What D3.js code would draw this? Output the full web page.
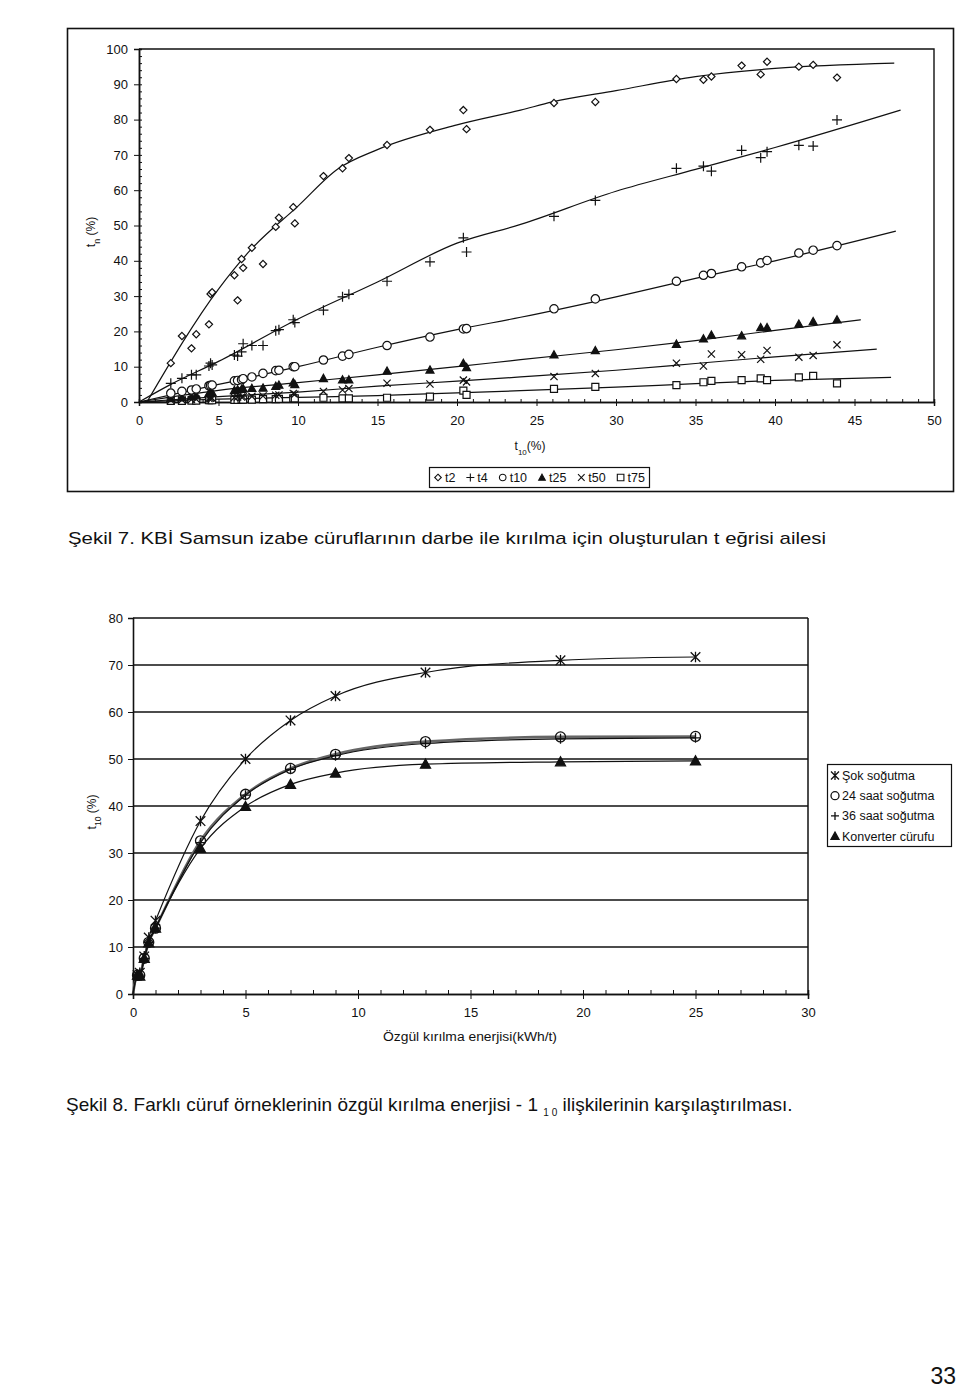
<!DOCTYPE html>
<html><head><meta charset="utf-8">
<script src="https://cdn.jsdelivr.net/npm/d3@7"></script>
<style>
body{margin:0;background:#fff}
svg{display:block}
text{font-family:"Liberation Sans",Arial,sans-serif;fill:#111}
</style>
</head><body>
<svg id="c" width="960" height="1391"></svg>
<script>
// ---------- Figure 7 data (t-family) ----------
const t10X = [2.0,2.7,3.3,3.6,4.4,4.5,4.6,6.0,6.2,6.45,6.55,7.1,7.8,8.6,8.8,9.7,9.8,11.6,12.8,13.2,15.6,18.3,20.4,20.6,26.1,28.7,33.8,35.5,36.0,37.9,39.1,39.5,41.5,42.4,43.9];
const t2  = [11.0,18.7,15.2,19.2,22.0,30.6,31.1,35.9,28.8,40.5,38.0,43.7,39.1,49.6,52.2,55.2,50.6,64.0,66.2,69.1,72.8,77.1,82.7,77.3,84.7,85.0,91.5,91.3,92.2,95.3,92.8,96.4,95.0,95.5,91.9];
const t4  = [5.3,6.7,7.7,7.7,10.2,11.0,10.5,13.3,13.0,14.2,16.5,16.0,16.0,20.2,20.5,23.3,22.5,26.0,29.8,30.5,34.2,39.7,46.5,42.5,52.6,57.1,66.2,66.8,65.4,71.3,69.2,70.9,72.7,72.5,79.9];
const t10 = [2.5,3.0,3.4,3.7,4.6,4.7,4.8,6.0,6.1,6.3,6.6,7.1,8.1,8.9,9.0,10.0,10.0,11.9,13.0,13.5,16.0,18.4,20.7,20.8,26.4,29.2,34.2,35.9,36.4,38.3,39.4,40.1,42.2,43.0,44.3];
const t25 = [1.0,1.2,1.5,1.8,2.5,2.7,2.7,3.3,3.5,3.6,3.8,3.9,4.0,4.5,4.8,5.5,5.0,6.7,6.3,6.3,8.8,9.1,11.0,9.8,13.4,14.6,16.4,17.9,19.0,18.8,21.1,21.1,22.1,22.8,23.3];
const t50 = [0.5,0.6,0.7,0.8,1.0,1.1,1.1,1.3,1.4,1.4,1.5,1.6,1.7,1.9,2.0,2.4,2.2,3.0,3.4,3.8,5.3,5.1,6.2,5.7,7.2,8.1,11.0,10.2,13.6,13.4,12.1,14.6,12.7,13.2,16.2];
const t75 = [0.3,0.3,0.4,0.4,0.5,0.5,0.5,0.6,0.6,0.7,0.7,0.7,0.8,0.8,0.9,1.0,1.0,1.2,1.0,1.0,1.2,1.5,3.2,2.0,3.7,4.3,4.8,5.6,6.0,6.2,6.7,6.2,7.0,7.4,5.3];

// fitted curves
const fitT2X  = [0.5,5,7,10,12.5,15,20,24,26,30,35,40,47.5];
const fitT2Y  = [0,32,43,55.5,66,71.5,78.5,82.7,85,88.2,92.2,94.5,96];
const fitT4X  = [0,2,5,10,15,20,24,30,35,40,47.9];
const fitT4Y  = [0,5,11.5,23.5,34,45,50.3,59.7,65.9,72.1,82.7];
const fitT10X = [0,5,10,15,20,24,30,35,40,47.6];
const fitT10Y = [0,5,10,15.5,20.5,24,29.8,35,40,48.4];
const fitT25X = [0,5,10,15,20,24,30,35,40,45.4];
const fitT25Y = [0,3.3,5.5,7.7,10,12,14.8,17.4,20.3,23.3];
const fitT50X = [0,5,10,15,20,24,30,35,40,46.4];
const fitT50Y = [0,1.5,2.8,4.5,5.9,7.1,9,10.9,12.8,15];
const fitT75X = [0,5,10,15,20,24,30,35,40,47.3];
const fitT75Y = [0,0.8,1.3,1.8,2.6,3.2,4.2,5.2,6.1,7.0];

const fig7Names = ["t2","t4","t10","t25","t50","t75"];
const fig7XTicks = [0,5,10,15,20,25,30,35,40,45,50];
const fig7YTicks = [0,10,20,30,40,50,60,70,80,90,100];

// ---------- Figure 8 data ----------
const energy  = [0,0.2,0.3,0.5,0.7,1,3,5,7,9,13,19,25];
const sok     = [0,4,4.5,8,12,15.6,36.8,50,58.2,63.4,68.4,71,71.7];
const saat24  = [0,4,4,7.6,11,14,32.6,42.5,48,51,53.7,54.7,54.8];
const saat36  = [0,4,4,7.6,11,14,32.2,42.3,47.8,50.7,53.3,54.3,54.5];
const konv    = [0,4,3.8,7.6,10.9,14,31,39.9,44.6,47,48.9,49.4,49.6];
const fig8Names = ["Şok soğutma","24 saat soğutma","36 saat soğutma","Konverter cürufu"];
const fig8XTicks = [0,5,10,15,20,25,30];
const fig8YTicks = [0,10,20,30,40,50,60,70,80];

// ---------- helpers ----------
function sym(type, s){
  switch(type){
    case "diamond": return `M0,${-s}L${s},0L0,${s}L${-s},0Z`;
    case "plus": return `M${-s},0H${s}M0,${-s}V${s}`;
    case "circle": return `M${s},0A${s},${s} 0 1,1 ${-s},0A${s},${s} 0 1,1 ${s},0Z`;
    case "triangle": return `M0,${-s}L${s},${s*0.8}L${-s},${s*0.8}Z`;
    case "x": return `M${-s},${-s}L${s},${s}M${s},${-s}L${-s},${s}`;
    case "square": return `M${-s},${-s}H${s}V${s}H${-s}Z`;
    case "asterisk": return `M${-s},${-s}L${s},${s}M${s},${-s}L${-s},${s}M0,${-s*1.1}V${s*1.1}`;
  }
}
const svg = d3.select("#c");
svg.append("rect").attr("width",960).attr("height",1391).attr("fill","#fff");

// ================= FIGURE 7 =================
const x7 = d3.scaleLinear().domain([0,50]).range([139,934]);
const y7 = d3.scaleLinear().domain([0,100]).range([402,49]);
const g7 = svg.append("g");

g7.append("rect").attr("x",67.5).attr("y",28.5).attr("width",886).attr("height",463)
  .attr("fill","none").attr("stroke","#111").attr("stroke-width",1.6);
g7.append("path").attr("d",`M${x7(0)},${y7(100)}H${x7(50)}V${y7(0)}`)
  .attr("fill","none").attr("stroke","#111").attr("stroke-width",1.4);

const ax7y = g7.append("g").attr("transform",`translate(${x7(0)},0)`)
  .call(d3.axisLeft(y7).tickValues(fig7YTicks).tickSize(5).tickFormat(d3.format("d")));
const ax7ym = g7.append("g").attr("transform",`translate(${x7(0)},0)`)
  .call(d3.axisLeft(y7).tickValues(d3.range(0,101,2)).tickSize(-3).tickFormat(""));
const ax7x = g7.append("g").attr("transform",`translate(0,${y7(0)})`)
  .call(d3.axisBottom(x7).tickValues(fig7XTicks).tickSize(4).tickPadding(10).tickFormat(d3.format("d")));
const ax7xm = g7.append("g").attr("transform",`translate(0,${y7(0)})`)
  .call(d3.axisBottom(x7).tickValues(d3.range(0,51,1)).tickSize(-3).tickFormat(""));
[ax7y,ax7ym,ax7x,ax7xm].forEach(a=>{
  a.select(".domain").attr("stroke","#111").attr("stroke-width",1.5);
  a.selectAll(".tick line").attr("stroke","#111").attr("stroke-width",1);
  a.selectAll("text").style("font-size","13px").attr("fill","#111");
});
ax7y.selectAll("text").attr("x",-11);

const yt7 = g7.append("text").attr("transform","translate(95,232) rotate(-90)")
  .attr("text-anchor","middle").style("font-size","12px");
yt7.append("tspan").text("t");
yt7.append("tspan").text("n").attr("baseline-shift","sub").style("font-size","9px");
yt7.append("tspan").text(" (%)");
const xt7 = g7.append("text").attr("x",530).attr("y",450).attr("text-anchor","middle").style("font-size","12px");
xt7.append("tspan").text("t");
xt7.append("tspan").text("10").attr("baseline-shift","sub").style("font-size","8px");
xt7.append("tspan").text("(%)");

const line7 = d3.line().x(d=>x7(d[0])).y(d=>y7(d[1])).curve(d3.curveMonotoneX);
const fits = [[fitT2X,fitT2Y],[fitT4X,fitT4Y],[fitT10X,fitT10Y],[fitT25X,fitT25Y],[fitT50X,fitT50Y],[fitT75X,fitT75Y]];
fits.forEach(([fx,fy])=>{
  g7.append("path").attr("d",line7(fx.map((v,i)=>[v,fy[i]])))
    .attr("fill","none").attr("stroke","#111").attr("stroke-width",1.2);
});

const series7 = [
  {vals:t2, type:"diamond", s:3.6, fill:"#fff"},
  {vals:t4, type:"plus", s:5, fill:"none"},
  {vals:t10,type:"circle", s:4.2, fill:"#fff"},
  {vals:t25,type:"triangle", s:4, fill:"#111"},
  {vals:t50,type:"x", s:3.6, fill:"none"},
  {vals:t75,type:"square", s:3.5, fill:"#fff"}
];
series7.slice().reverse().forEach(sr=>{
  g7.append("g").selectAll("path").data(t10X.map((v,i)=>[v,sr.vals[i]])).join("path")
    .attr("transform",d=>`translate(${x7(d[0])},${y7(d[1])})`)
    .attr("d",sym(sr.type,sr.s)).attr("fill",sr.fill)
    .attr("stroke","#111").attr("stroke-width",1.2);
});

const lg7 = g7.append("g");
lg7.append("rect").attr("x",429.5).attr("y",467.5).attr("width",220).attr("height",20)
  .attr("fill","#fff").attr("stroke","#111").attr("stroke-width",1.2);
{
  const texts = [];
  fig7Names.forEach((n,i)=>{
    const t = lg7.append("text").attr("y",482).style("font-size","12.5px").text(n);
    texts.push(t);
  });
  const widths = texts.map(t=>t.node().getComputedTextLength());
  const total = widths.reduce((a,b)=>a+b,0) + 6*12;
  const gap = (212 - total)/5;
  let cx = 434;
  texts.forEach((t,i)=>{
    const sr = series7[i];
    lg7.append("path").attr("transform",`translate(${cx+4},${477.5})`)
      .attr("d",sym(sr.type, sr.type==="plus"?4:3.3)).attr("fill",sr.fill)
      .attr("stroke","#111").attr("stroke-width",1.1);
    t.attr("x",cx+11);
    cx += 12 + widths[i] + gap;
  });
}

svg.append("text").attr("x",68).attr("y",544).style("font-size","17px")
  .attr("textLength",758).attr("lengthAdjust","spacingAndGlyphs")
  .text("Şekil 7. KBİ Samsun izabe cüruflarının darbe ile kırılma için oluşturulan t eğrisi ailesi");

// ================= FIGURE 8 =================
const x8 = d3.scaleLinear().domain([0,30]).range([133,808]);
const y8 = d3.scaleLinear().domain([0,80]).range([994,618]);
const g8 = svg.append("g");

g8.append("g").selectAll("line").data(fig8YTicks.filter(d=>d>0)).join("line")
  .attr("x1",x8(0)).attr("x2",x8(30)).attr("y1",d=>y8(d)).attr("y2",d=>y8(d))
  .attr("stroke","#111").attr("stroke-width",1.3);
g8.append("line").attr("x1",x8(30)).attr("x2",x8(30)).attr("y1",y8(80)).attr("y2",y8(0))
  .attr("stroke","#111").attr("stroke-width",1.5);

const ax8y = g8.append("g").attr("transform",`translate(${x8(0)},0)`)
  .call(d3.axisLeft(y8).tickValues(fig8YTicks).tickSize(5).tickFormat(d3.format("d")));
const ax8x = g8.append("g").attr("transform",`translate(0,${y8(0)})`)
  .call(d3.axisBottom(x8).tickValues(fig8XTicks).tickSize(5).tickPadding(9).tickFormat(d3.format("d")));
const ax8xm = g8.append("g").attr("transform",`translate(0,${y8(0)})`)
  .call(d3.axisBottom(x8).tickValues(d3.range(0,31,1)).tickSize(-4).tickFormat(""));
[ax8y,ax8x,ax8xm].forEach(a=>{
  a.select(".domain").attr("stroke","#111").attr("stroke-width",1.6);
  a.selectAll(".tick line").attr("stroke","#111").attr("stroke-width",1);
  a.selectAll("text").style("font-size","13px").attr("fill","#111");
});
ax8y.selectAll("text").attr("x",-10);

const yt8 = g8.append("text").attr("transform","translate(96,812) rotate(-90)")
  .attr("text-anchor","middle").style("font-size","12px");
yt8.append("tspan").text("t");
yt8.append("tspan").text("10").attr("baseline-shift","sub").style("font-size","8.5px");
yt8.append("tspan").text(" (%)");
g8.append("text").attr("x",470).attr("y",1041).attr("text-anchor","middle")
  .style("font-size","12px").attr("textLength",174).attr("lengthAdjust","spacingAndGlyphs")
  .text("Özgül kırılma enerjisi(kWh/t)");

const line8 = d3.line().x(d=>x8(d[0])).y(d=>y8(d[1])).curve(d3.curveMonotoneX);
const series8 = [
  {vals:sok, type:"asterisk", s:4.8, fill:"none", stroke:"#111", w:1.2},
  {vals:saat24, type:"circle", s:5, fill:"none", stroke:"#666", w:2.6},
  {vals:saat36, type:"plus", s:5, fill:"none", stroke:"#111", w:1.2},
  {vals:konv, type:"triangle", s:5, fill:"#111", stroke:"#111", w:1.2}
];
series8.forEach(sr=>{
  g8.append("path").attr("d",line8(energy.map((v,i)=>[v,sr.vals[i]])))
    .attr("fill","none").attr("stroke",sr.stroke).attr("stroke-width",sr.w);
});
series8.forEach(sr=>{
  g8.append("g").selectAll("path").data(energy.map((v,i)=>[v,sr.vals[i]]).filter(d=>d[0]>0)).join("path")
    .attr("transform",d=>`translate(${x8(d[0])},${y8(d[1])})`)
    .attr("d",sym(sr.type,sr.s)).attr("fill",sr.fill)
    .attr("stroke","#111").attr("stroke-width",1.3);
});

const lg8 = g8.append("g");
lg8.append("rect").attr("x",827.5).attr("y",764.5).attr("width",124).attr("height",82)
  .attr("fill","#fff").attr("stroke","#111").attr("stroke-width",1.2);
fig8Names.forEach((n,i)=>{
  const cy = 775.5 + i*20.2;
  const sr = series8[i];
  lg8.append("path").attr("transform",`translate(${835},${cy})`)
    .attr("d",sym(sr.type,4)).attr("fill",sr.fill).attr("stroke","#111").attr("stroke-width",1.3);
  lg8.append("text").attr("x",842).attr("y",cy+4.5).style("font-size","12.5px").text(n);
});

const cap8 = svg.append("text").attr("x",66).attr("y",1111).style("font-size","19px");
cap8.append("tspan").text("Şekil 8. Farklı cüruf örneklerinin özgül kırılma enerjisi - 1 ");
cap8.append("tspan").text("1 0").style("font-size","10px").attr("dy",5);
cap8.append("tspan").text(" ilişkilerinin karşılaştırılması.").attr("dy",-5);

svg.append("text").attr("x",956).attr("y",1384).attr("text-anchor","end").style("font-size","23px").text("33");
</script>
</body></html>
